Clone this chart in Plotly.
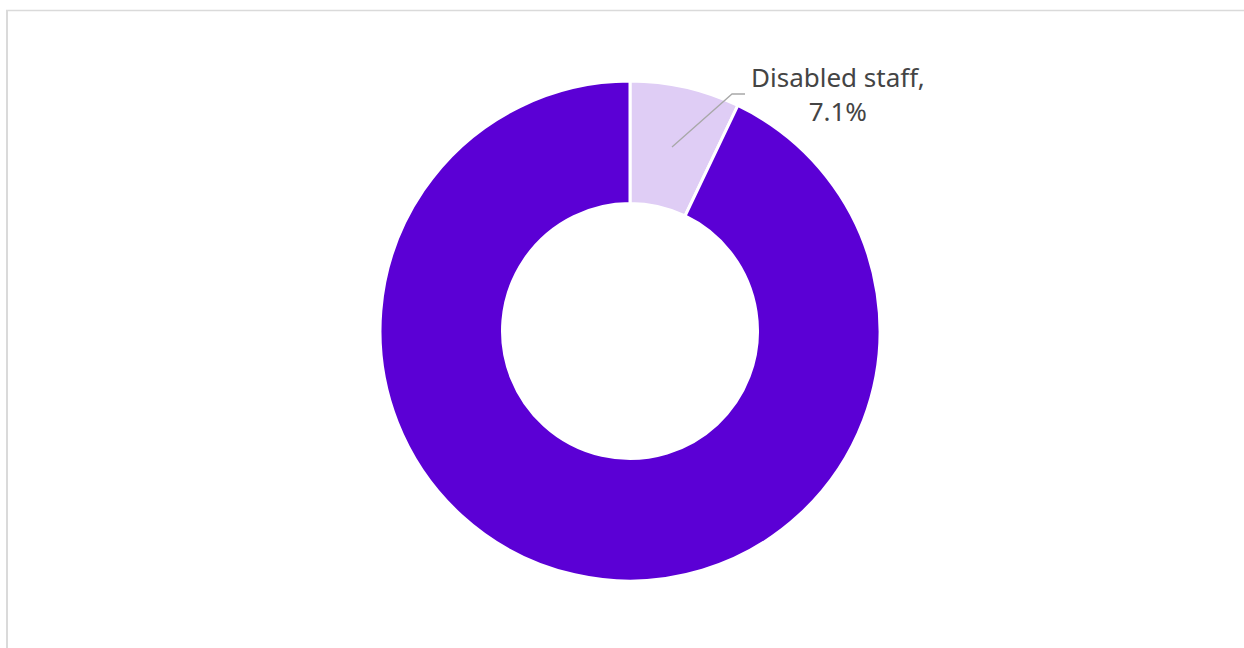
import plotly.graph_objects as go

labels = ["Disabled staff", "Non-disabled staff"]
values = [7.1, 92.9]
colors = ["#DFCDF5", "#5B00D5"]

W, H = 1244, 648

def px(x):
    return x / W

def py(y):
    return 1 - y / H

fig = go.Figure(go.Pie(
    labels=labels,
    values=values,
    hole=0.51,
    sort=False,
    direction="clockwise",
    rotation=0,
    marker=dict(colors=colors, line=dict(color="white", width=3)),
    textinfo="none",
    hoverinfo="label+percent",
    domain=dict(x=[px(380), px(880)], y=[py(581), py(81)]),
    showlegend=False,
))

# leader line for label
fig.add_shape(type="path",
              path=f"M {px(672)} {py(147)} L {px(732)} {py(94)} L {px(745)} {py(94)}",
              xref="paper", yref="paper",
              line=dict(color="#A8A8A8", width=1.3))

fig.add_annotation(
    text=f"{labels[0]},<br>{values[0]}%",
    x=px(838), y=py(94), xref="paper", yref="paper",
    xanchor="center", yanchor="middle", showarrow=False,
    font=dict(family="Noto Sans, Open Sans, sans-serif", size=26, color="#444444"),
    align="center",
)

# frame lines
fig.add_shape(type="line", x0=px(7), x1=px(7), y0=py(10), y1=py(650),
              xref="paper", yref="paper", line=dict(color="#DADADA", width=2))
fig.add_shape(type="line", x0=px(6), x1=px(1250), y0=py(10.5), y1=py(10.5),
              xref="paper", yref="paper", line=dict(color="#DADADA", width=1.5))

fig.update_layout(
    width=W, height=H,
    margin=dict(l=0, r=0, t=0, b=0),
    paper_bgcolor="white",
    plot_bgcolor="white",
)

fig.write_html("out.html",
               config={"displayModeBar": False},
               post_script="document.body.style.margin='0';document.body.style.overflow='hidden';")
